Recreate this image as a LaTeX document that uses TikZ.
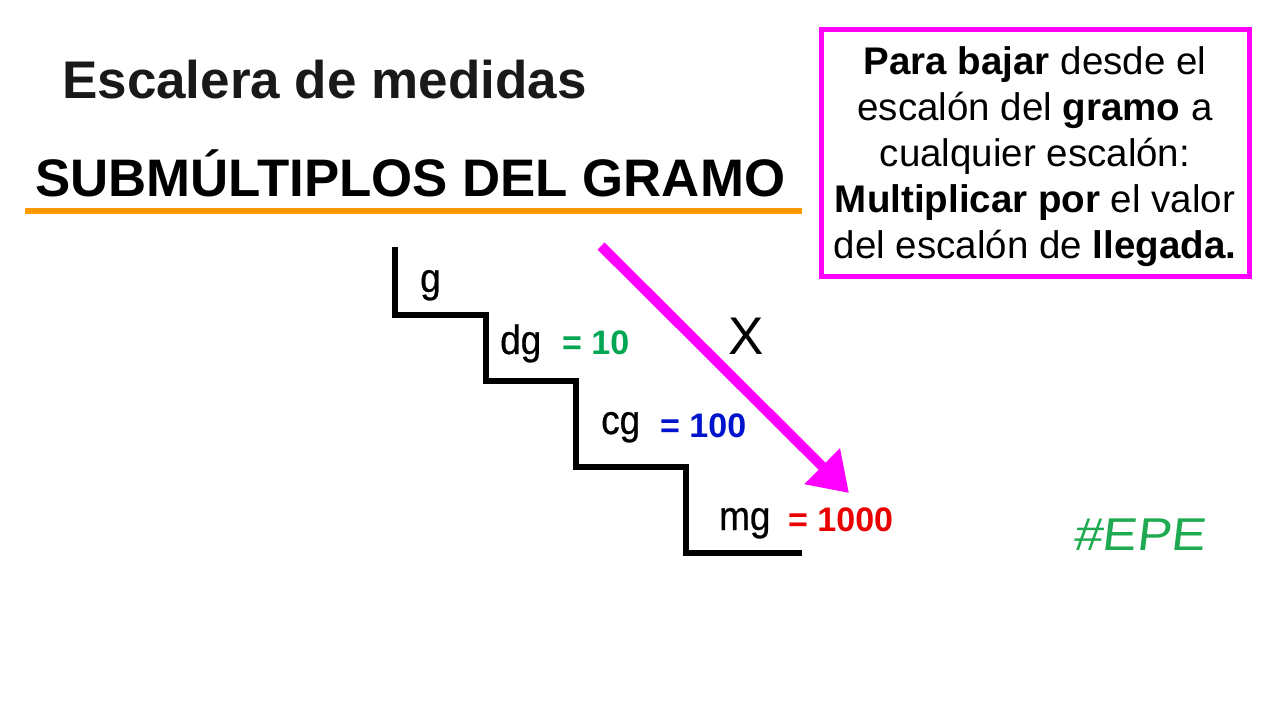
\documentclass[tikz,border=0pt]{standalone}
\usepackage{fontspec}
\setmainfont{Liberation Sans}
\newfontfamily\narrowfont[FakeStretch=0.9,FakeBold=0.6]{Liberation Sans}
\newfontfamily\epefont[FakeStretch=1.12,FakeSlant=0.12]{Liberation Sans}
\usetikzlibrary{arrows.meta}
\definecolor{mag}{RGB}{255,0,255}
\definecolor{orng}{RGB}{255,153,0}
\definecolor{grn}{RGB}{0,166,81}
\definecolor{blu}{RGB}{0,20,205}
\definecolor{rd}{RGB}{235,0,0}
\definecolor{epegreen}{RGB}{30,170,80}
\tikzset{
  title/.style={font=\fontsize{53}{60}\selectfont\bfseries, anchor=base west, inner sep=0pt},
  boxline/.style={font=\fontsize{38.5}{44}\selectfont, anchor=base, inner sep=0pt},
  unit/.style={font=\narrowfont\fontsize{41}{48}\selectfont, anchor=base west, inner sep=0pt},
  val/.style={font=\fontsize{34}{38}\selectfont\bfseries, anchor=base west, inner sep=0pt},
}
\begin{document}
\begin{tikzpicture}[x=1pt,y=-1pt]
\useasboundingbox[fill=white] (0,0) rectangle (1280,720);
% titles
\node[title, text={rgb,255:red,25;green,25;blue,25}] (t1) at (62,98) {Escalera de medidas};
\node[title,font=\fontsize{52.8}{60}\selectfont\bfseries] (t2) at (35,196) {SUBMÚLTIPLOS DEL GRAMO};
\draw[orng, line width=6pt] (25,211) -- (802,211);
% box
\draw[mag, line width=5pt] (821,29) rectangle (1249,276);
\node[boxline] (b1) at (1035,74) {\textbf{Para bajar} desde el};
\node[boxline] (b2) at (1035,120) {escalón del \textbf{gramo} a};
\node[boxline] (b3) at (1035,166) {cualquier escalón:};
\node[boxline] (b4) at (1035,212) {\textbf{Multiplicar por} el valor};
\node[boxline] (b5) at (1035,258) {del escalón de \textbf{llegada.}};
% staircase
\draw[line width=5.5pt, miter limit=10] (395,247) -- (395,315) -- (486,315) -- (486,381) -- (576,381) -- (576,467) -- (686,467) -- (686,553) -- (802,553);
% labels
\node[unit] (g) at (420,292) {g};
\node[unit] (dg) at (500,354) {dg};
\node[val, grn] (v10) at (562,354) {= 10};
\node[unit] (cg) at (601,434) {cg};
\node[val, blu] (v100) at (660,437) {= 100};
\node[unit] (mg) at (719,530) {mg};
\node[val, rd] (v1000) at (788,531) {= 1000};
% arrow
\coordinate (as) at (601,246);
\coordinate (ae) at (849,493);
\draw[mag, line width=10pt, -{Triangle[length=38pt,width=48pt]}] (as) -- (ae);
\node[font=\fontsize{53}{60}\selectfont, anchor=base, inner sep=0pt] (x) at (746,354) {X};
% EPE
\node[font=\epefont\fontsize{46}{50}\selectfont, text=epegreen, anchor=base, inner sep=0pt] (epe) at (1139,550) {\#EPE};
\end{tikzpicture}
\end{document}
